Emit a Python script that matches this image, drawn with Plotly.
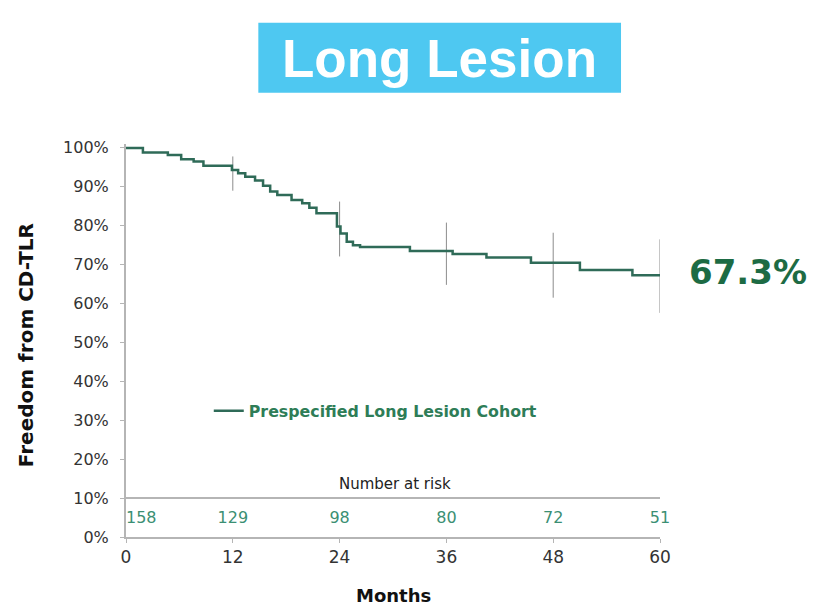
import plotly.graph_objects as go

# Kaplan-Meier estimate, freedom from CD-TLR (%), step changes by month
months = [0, 1.9, 4.7, 6.2, 7.6, 8.7, 11.9, 12.6, 13.4, 14.5, 15.4, 16.2, 17.0,
          18.6, 19.8, 20.6, 21.4, 23.7, 24.1, 24.8, 25.5, 26.3, 27.1, 31.9,
          36.7, 40.5, 45.5, 51.0, 56.9, 60]
survival = [100, 98.8, 98.2, 97.1, 96.5, 95.4, 94.3, 93.5, 92.6, 91.6, 90.3,
            88.8, 87.9, 86.6, 85.8, 84.6, 83.2, 79.8, 78.0, 75.9, 75.0, 74.5,
            74.5, 73.5, 72.7, 71.8, 70.5, 68.6, 67.3, 67.3]

# 95% confidence interval bars at yearly landmarks
ci_months = [12, 24, 36, 48, 60]
ci_lower = [89.0, 72.1, 64.8, 61.5, 57.6]
ci_upper = [97.8, 86.2, 80.8, 78.2, 76.5]

# Number-at-risk table
risk_months = [0, 12, 24, 36, 48, 60]
risk_counts = [158, 129, 98, 80, 72, 51]
risk_row_y = 4.75
risk_table_top = 10

y_ticks = list(range(0, 101, 10))
y_tick_labels = [f"{v}%" for v in y_ticks]
x_ticks = [0, 12, 24, 36, 48, 60]
final_rate = 67.3

CURVE = "#2f6b58"
LEGEND_GREEN = "#2e7d57"
RISK_GREEN = "#3b8f73"
AXIS_GRAY = "#b5b5b5"
FONT = "DejaVu Sans"

fig = go.Figure()

# confidence interval bars
ci_x, ci_y = [], []
for m, lo, hi in zip(ci_months, ci_lower, ci_upper):
    ci_x += [m, m, None]
    ci_y += [lo, hi, None]
fig.add_trace(go.Scatter(x=ci_x, y=ci_y, mode="lines",
                         line=dict(color="#8c8c8c", width=1),
                         showlegend=False, hoverinfo="skip"))

# survival curve
fig.add_trace(go.Scatter(x=months, y=survival, mode="lines", line_shape="hv",
                         line=dict(color=CURVE, width=2.5),
                         name="Prespecified Long Lesion Cohort"))

# number at risk row
positions = ["middle right"] + ["middle center"] * (len(risk_months) - 1)
fig.add_trace(go.Scatter(x=risk_months, y=[risk_row_y] * len(risk_months),
                         mode="text", text=[str(n) for n in risk_counts],
                         textposition=positions, cliponaxis=False,
                         textfont=dict(family=FONT, size=16, color=RISK_GREEN),
                         showlegend=False, hoverinfo="skip"))

# divider above the at-risk table
fig.add_shape(type="line", xref="x", yref="y", x0=risk_months[0], x1=risk_months[-1],
              y0=risk_table_top, y1=risk_table_top,
              line=dict(color=AXIS_GRAY, width=2))

# title badge
fig.add_shape(type="rect", xref="paper", yref="paper",
              x0=0.2478, x1=0.927, y0=1.1305, y1=1.3087,
              fillcolor="#4ec8f1", line=dict(width=0), layer="below")

annotations = [
    dict(text="Long Lesion", xref="paper", yref="paper", x=0.5875, y=1.2188,
         xanchor="center", yanchor="middle", showarrow=False,
         font=dict(family="Liberation Sans", size=53, color="white", weight="bold")),
    dict(text="Number at risk", xref="x", yref="y", x=30.2, y=13.7,
         xanchor="center", yanchor="middle", showarrow=False,
         font=dict(family=FONT, size=15, color="#222222")),
    dict(text=f"{final_rate}%", xref="x", yref="y", x=months[-1], y=final_rate,
         xanchor="left", yanchor="middle", xshift=27, yshift=3, showarrow=False,
         font=dict(family=FONT, size=34, color="#1d6b44", weight="bold")),
    dict(text="Freedom from CD-TLR", xref="paper", yref="paper", x=-0.187, y=0.4885,
         textangle=-90, xanchor="center", yanchor="middle", showarrow=False,
         font=dict(family=FONT, size=20, color="#111111", weight="bold")),
    dict(text="Months", xref="x", yref="paper", x=30, y=-0.150,
         xanchor="center", yanchor="middle", showarrow=False,
         font=dict(family=FONT, size=18, color="#111111", weight="bold")),
]

fig.update_layout(
    width=814, height=607,
    margin=dict(l=126, r=154, t=144, b=70),
    paper_bgcolor="white", plot_bgcolor="white",
    annotations=annotations,
    showlegend=True,
    legend=dict(x=0.155, y=0.3206, xanchor="left", yanchor="middle",
                bgcolor="rgba(0,0,0,0)",
                font=dict(family=FONT, size=15.8, color=LEGEND_GREEN, weight="bold")),
    xaxis=dict(range=[0, 60], tickvals=x_ticks, ticktext=[str(t) for t in x_ticks],
               showgrid=False, zeroline=False, showline=True,
               linecolor=AXIS_GRAY, linewidth=2, ticks="outside", ticklen=4,
               tickcolor=AXIS_GRAY,
               tickfont=dict(family=FONT, size=17, color="#333333")),
    yaxis=dict(range=[0, 101], tickvals=y_ticks, ticktext=y_tick_labels,
               showgrid=False, zeroline=False, showline=True,
               linecolor=AXIS_GRAY, linewidth=2, ticks="outside", ticklen=4,
               tickcolor=AXIS_GRAY, ticklabelstandoff=8,
               tickfont=dict(family=FONT, size=16, color="#333333")),
)

fig.write_html("out.html")
